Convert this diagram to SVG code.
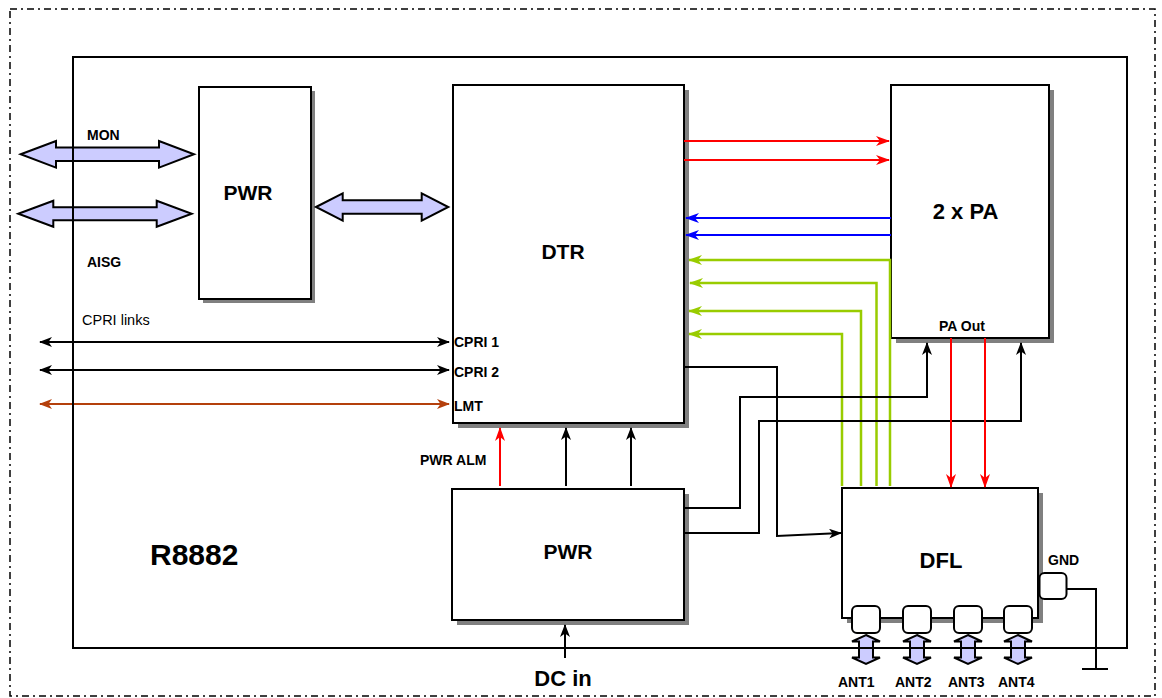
<svg xmlns="http://www.w3.org/2000/svg" width="1162" height="698" viewBox="0 0 1162 698">
<style>
.box{fill:#fff;stroke:#000;stroke-width:2}
.shadow{fill:#808080}
.port{fill:#fff;stroke:#000;stroke-width:2}
.blk{fill:#ccccff;stroke:#000;stroke-width:2;stroke-linejoin:miter}
.ln{fill:none;stroke-width:2}
.k{stroke:#000}
.r{stroke:#ff0000}
.b{stroke:#0000ff}
.g{stroke:#99cc00;stroke-width:2.5}
.br{stroke:#b4400c}
text{font-family:"Liberation Sans",Arial,sans-serif;font-weight:bold;fill:#000}
text.norm{font-weight:normal}
.mid{text-anchor:middle}
</style>
<defs>
<marker id="ak" markerUnits="userSpaceOnUse" markerWidth="13" markerHeight="10" refX="12" refY="5" orient="auto-start-reverse"><path d="M0,0 L13,5 L0,10 L3.5,5 Z" fill="#000"/></marker>
<marker id="ar" markerUnits="userSpaceOnUse" markerWidth="14" markerHeight="10" refX="13" refY="5" orient="auto-start-reverse"><path d="M0,0 L14,5 L0,10 L4,5 Z" fill="#ff0000"/></marker>
<marker id="ab" markerUnits="userSpaceOnUse" markerWidth="14" markerHeight="10" refX="13" refY="5" orient="auto-start-reverse"><path d="M0,0 L14,5 L0,10 L4,5 Z" fill="#0000ff"/></marker>
<marker id="ag" markerUnits="userSpaceOnUse" markerWidth="14" markerHeight="10" refX="13" refY="5" orient="auto-start-reverse"><path d="M0,0 L14,5 L0,10 L4,5 Z" fill="#99cc00"/></marker>
<marker id="abr" markerUnits="userSpaceOnUse" markerWidth="13" markerHeight="10" refX="12" refY="5" orient="auto-start-reverse"><path d="M0,0 L13,5 L0,10 L3.5,5 Z" fill="#b4400c"/></marker>
</defs>
<rect width="1162" height="698" fill="#fff"/>
<rect id="frame" x="10" y="9" width="1145" height="687" fill="none" stroke="#000" stroke-width="1.5" stroke-dasharray="7 4 2 4"/>

<g id="pwr-top">
  <rect class="shadow" x="203" y="91" width="112" height="212"/>
  <rect class="box" x="199" y="87" width="112" height="212"/>
  <text class="mid" x="248" y="200" font-size="21">PWR</text>
</g>
<g id="dtr">
  <rect class="shadow" x="458" y="90" width="231" height="338"/>
  <rect class="box" x="453" y="85" width="231" height="338"/>
  <text class="mid" x="563" y="259" font-size="21">DTR</text>
  <text x="454" y="347" font-size="14">CPRI 1</text>
  <text x="454" y="377" font-size="14">CPRI 2</text>
  <text x="454" y="411" font-size="14">LMT</text>
</g>
<g id="pa">
  <rect class="shadow" x="896" y="90" width="158" height="253"/>
  <rect class="box" x="891" y="85" width="158" height="253"/>
  <text class="mid" x="965.5" y="219" font-size="22">2 x PA</text>
  <text class="mid" x="962" y="331" font-size="14">PA Out</text>
</g>
<g id="pwr-bottom">
  <rect class="shadow" x="457" y="494" width="232" height="131"/>
  <rect class="box" x="452" y="489" width="232" height="131"/>
  <text class="mid" x="568" y="559" font-size="21">PWR</text>
</g>
<g id="dfl">
  <rect class="shadow" x="847" y="493" width="196" height="130"/>
  <rect class="box" x="842" y="488" width="196" height="130"/>
  <text class="mid" x="941" y="568" font-size="22">DFL</text>
</g>
<g id="gnd">
  <rect class="port" x="1039.5" y="573" width="27" height="26" rx="5"/>
  <text x="1048" y="565" font-size="14">GND</text>
</g>
<g id="ant1">
  <rect class="port" x="852" y="606" width="28" height="27" rx="5"/>
  <path class="blk" d="M866,635 L880,641.5 L873,641.5 L873,657.5 L880,657.5 L866,664 L852,657.5 L859,657.5 L859,641.5 L852,641.5 Z"/>
  <text x="838" y="687" font-size="14">ANT1</text>
</g>
<g id="ant2">
  <rect class="port" x="903" y="606" width="28" height="27" rx="5"/>
  <path class="blk" d="M917,635 L931,641.5 L924,641.5 L924,657.5 L931,657.5 L917,664 L903,657.5 L910,657.5 L910,641.5 L903,641.5 Z"/>
  <text x="895" y="687" font-size="14">ANT2</text>
</g>
<g id="ant3">
  <rect class="port" x="954" y="606" width="28" height="27" rx="5"/>
  <path class="blk" d="M968,635 L982,641.5 L975,641.5 L975,657.5 L982,657.5 L968,664 L954,657.5 L961,657.5 L961,641.5 L954,641.5 Z"/>
  <text x="948" y="687" font-size="14">ANT3</text>
</g>
<g id="ant4">
  <rect class="port" x="1004" y="606" width="28" height="27" rx="5"/>
  <path class="blk" d="M1018,635 L1032,641.5 L1025,641.5 L1025,657.5 L1032,657.5 L1018,664 L1004,657.5 L1011,657.5 L1011,641.5 L1004,641.5 Z"/>
  <text x="998" y="687" font-size="14">ANT4</text>
</g>

<g id="connectors">
  <path class="blk" d="M20.7,154.3 L56,141 L56,147.6 L159,147.6 L159,141 L194,154.3 L159,167.6 L159,161 L56,161 L56,167.6 Z"/>
  <path class="blk" d="M18.3,213.7 L53.3,200.7 L53.3,207.2 L156.7,207.2 L156.7,200.7 L191.7,213.7 L156.7,226.7 L156.7,220.2 L53.3,220.2 L53.3,226.7 Z"/>
  <path class="blk" d="M316,207 L342.7,193.3 L342.7,200.3 L421.7,200.3 L421.7,193.3 L448.3,207 L421.7,220.7 L421.7,213.7 L342.7,213.7 L342.7,220.7 Z"/>
  <path class="ln k" d="M40,342 H449" marker-start="url(#ak)" marker-end="url(#ak)"/>
  <path class="ln k" d="M40,370 H449" marker-start="url(#ak)" marker-end="url(#ak)"/>
  <path class="ln br" d="M40,404 H449" marker-start="url(#abr)" marker-end="url(#abr)"/>
  <path class="ln r" d="M684,141 H889" marker-end="url(#ar)"/>
  <path class="ln r" d="M684,160 H889" marker-end="url(#ar)"/>
  <path class="ln b" d="M891,218 H686" marker-end="url(#ab)"/>
  <path class="ln b" d="M891,235 H686" marker-end="url(#ab)"/>
  <path class="ln g" d="M890,486 V260 H689" marker-end="url(#ag)"/>
  <path class="ln g" d="M876.5,486 V283 H690" marker-end="url(#ag)"/>
  <path class="ln g" d="M861,486 V311 H689" marker-end="url(#ag)"/>
  <path class="ln g" d="M842,486 V334 H689" marker-end="url(#ag)"/>
  <path class="ln k" d="M684,367 H777 V536 L841,533" marker-end="url(#ak)"/>
  <path class="ln k" d="M684,508 H740 V397 H927 V343" marker-end="url(#ak)"/>
  <path class="ln k" d="M684,533 H759 V421 H1021 V343" marker-end="url(#ak)"/>
  <path class="ln r" d="M951,338 V487" stroke-width="1.5" marker-end="url(#ar)"/>
  <path class="ln r" d="M985,338 V487" stroke-width="1.5" marker-end="url(#ar)"/>
  <path class="ln r" d="M500,486 V428" marker-end="url(#ar)"/>
  <path class="ln k" d="M566,486 V428" marker-end="url(#ak)"/>
  <path class="ln k" d="M631,486 V428" marker-end="url(#ak)"/>
  <path class="ln k" d="M565,658 V625" marker-end="url(#ak)"/>
  <path class="ln k" d="M1067,589 H1096 V669 M1082,669 H1108"/>
</g>

<rect id="R8882" x="73" y="57" width="1054" height="591" fill="none" stroke="#000" stroke-width="2"/>

<g id="labels">
  <text x="87" y="140" font-size="14">MON</text>
  <text x="87" y="267" font-size="14">AISG</text>
  <text class="norm" x="82" y="325" font-size="14.5">CPRI links</text>
  <text x="420" y="465" font-size="14">PWR ALM</text>
  <text x="150" y="565" font-size="30">R8882</text>
  <text class="mid" x="563" y="686" font-size="22">DC in</text>
</g>
</svg>
